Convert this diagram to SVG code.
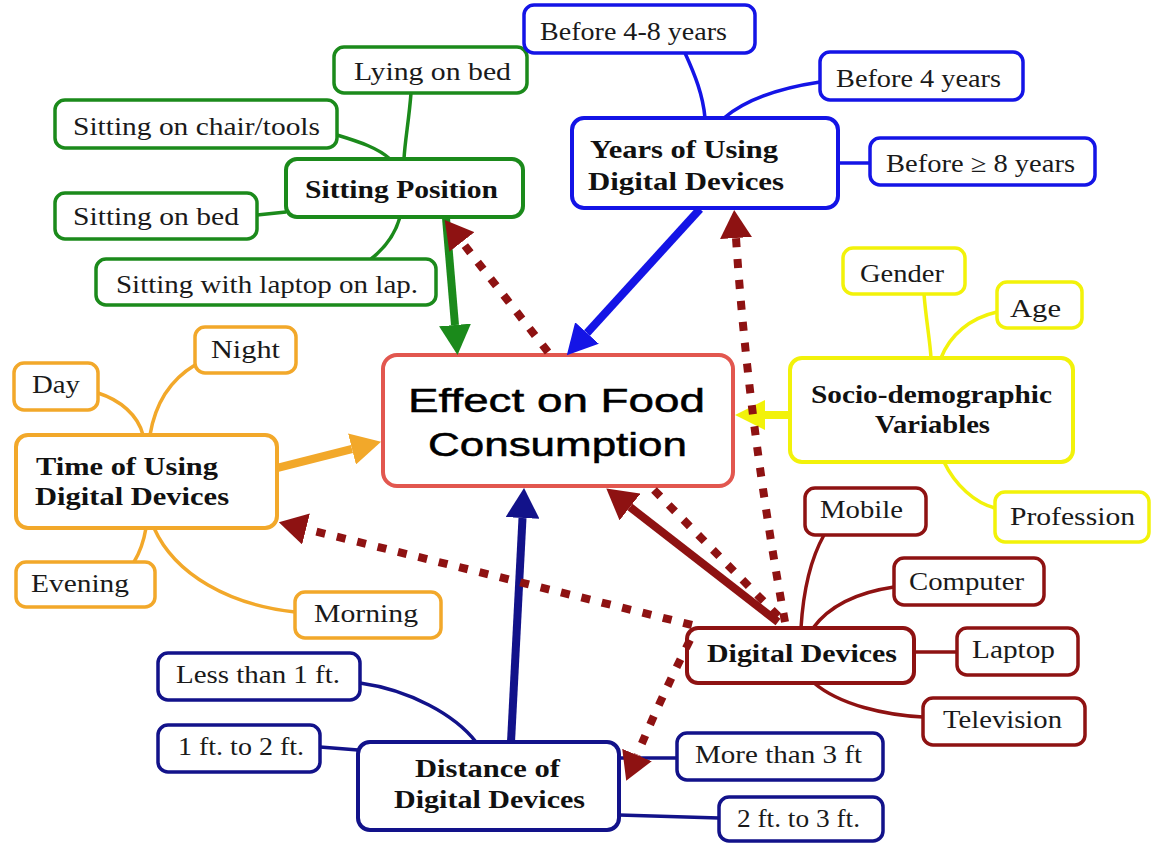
<svg xmlns="http://www.w3.org/2000/svg" width="1151" height="843" viewBox="0 0 1151 843">
<style>
.n{fill:#fff;stroke-width:3.5}
.m{stroke-width:4}
.G{stroke:#1b8a1b}.B{stroke:#1414e6}.Y{stroke:#f2f20a}.O{stroke:#f2a82a}.R{stroke:#8e1212}.N{stroke:#12128a}.E{stroke:#e2574f}
text{font-family:"Liberation Serif","Times New Roman",serif;font-size:25px;fill:#1a1a1a}
.b{font-weight:bold;fill:#111}
.big{font-family:"Liberation Sans",Arial,sans-serif;font-size:34px;fill:#000;stroke:#000;stroke-width:0.5}
.c{fill:none;stroke-width:3.5}
.t{fill:none;stroke-width:8}
.d{fill:none;stroke:#8e1212;stroke-width:8;stroke-dasharray:9 12}
</style>
<defs>
<marker id="hg" markerUnits="userSpaceOnUse" markerWidth="30" markerHeight="32" refX="0" refY="16" orient="auto"><path d="M0,0 L30,16 L0,32 Z" fill="#1b8a1b"/></marker>
<marker id="hb" markerUnits="userSpaceOnUse" markerWidth="30" markerHeight="32" refX="0" refY="16" orient="auto"><path d="M0,0 L30,16 L0,32 Z" fill="#1414e6"/></marker>
<marker id="ho" markerUnits="userSpaceOnUse" markerWidth="30" markerHeight="32" refX="0" refY="16" orient="auto"><path d="M0,0 L30,16 L0,32 Z" fill="#f2a82a"/></marker>
<marker id="hy" markerUnits="userSpaceOnUse" markerWidth="30" markerHeight="30" refX="0" refY="15" orient="auto"><path d="M0,0 L30,15 L0,30 Z" fill="#f2f20a"/></marker>
<marker id="hn" markerUnits="userSpaceOnUse" markerWidth="30" markerHeight="34" refX="0" refY="17" orient="auto"><path d="M0,0 L30,17 L0,34 Z" fill="#12128a"/></marker>
<marker id="hm" markerUnits="userSpaceOnUse" markerWidth="30" markerHeight="34" refX="0" refY="17" orient="auto"><path d="M0,0 L30,17 L0,34 Z" fill="#8e1212"/></marker>
<marker id="hd" markerUnits="userSpaceOnUse" markerWidth="28" markerHeight="32" refX="0" refY="16" orient="auto"><path d="M0,0 L28,16 L0,32 Z" fill="#8e1212"/></marker>
</defs>
<rect width="1151" height="843" fill="#fff"/>

<g id="leaf-connectors">
<path class="c G" d="M411,93 C409,120 405,140 404,159"/>
<path class="c G" d="M337,135 C360,142 378,148 390,159"/>
<path class="c G" d="M257,215 L286,212"/>
<path class="c G" d="M400,217 C395,235 385,248 371,259"/>
<path class="c B" d="M685,53 C695,75 703,95 705,118"/>
<path class="c B" d="M820,82 C780,88 745,100 724,118"/>
<path class="c B" d="M838,163 L870,163"/>
<path class="c Y" d="M924,294 C926,320 930,340 931,358"/>
<path class="c Y" d="M997,312 C970,318 950,335 941,358"/>
<path class="c Y" d="M944,462 C955,485 975,503 995,508"/>
<path class="c O" d="M98,393 C120,400 138,415 143,435"/>
<path class="c O" d="M195,365 C170,380 155,405 150,435"/>
<path class="c O" d="M146,528 C144,540 140,552 134,562"/>
<path class="c O" d="M154,528 C175,575 230,605 295,612"/>
<path class="c R" d="M824,535 C810,560 803,595 801,628"/>
<path class="c R" d="M894,587 C860,592 830,605 813,628"/>
<path class="c R" d="M914,652 L957,652"/>
<path class="c R" d="M814,683 C840,705 885,715 923,717"/>
<path class="c N" d="M360,683 C410,690 455,715 476,742"/>
<path class="c N" d="M320,747 L358,750"/>
<path class="c N" d="M619,758 L677,758"/>
<path class="c N" d="M619,815 L719,818"/>
</g>

<g id="sitting-position">
<rect class="n G" x="334" y="47" width="193" height="46" rx="10"/><text x="354" y="80" textLength="157" lengthAdjust="spacingAndGlyphs">Lying on bed</text>
<rect class="n G" x="55" y="100" width="282" height="48" rx="10"/><text x="73" y="135" textLength="247" lengthAdjust="spacingAndGlyphs">Sitting on chair/tools</text>
<rect class="n G m" x="286" y="159" width="237" height="58" rx="11"/><text class="b" x="305" y="198" textLength="193" lengthAdjust="spacingAndGlyphs">Sitting Position</text>
<rect class="n G" x="55" y="193" width="202" height="46" rx="10"/><text x="73" y="225" textLength="166" lengthAdjust="spacingAndGlyphs">Sitting on bed</text>
<rect class="n G" x="96" y="259" width="340" height="46" rx="10"/><text x="116" y="293" textLength="302" lengthAdjust="spacingAndGlyphs">Sitting with laptop on lap.</text>
</g>

<g id="years-of-using">
<rect class="n B" x="524" y="5" width="231" height="48" rx="10"/><text x="540" y="40" textLength="187" lengthAdjust="spacingAndGlyphs">Before 4-8 years</text>
<rect class="n B" x="820" y="52" width="203" height="48" rx="10"/><text x="836" y="87" textLength="165" lengthAdjust="spacingAndGlyphs">Before 4 years</text>
<rect class="n B m" x="572" y="118" width="266" height="90" rx="12"/>
<text class="b" x="590" y="158" textLength="188" lengthAdjust="spacingAndGlyphs">Years of Using</text>
<text class="b" x="588" y="190" textLength="196" lengthAdjust="spacingAndGlyphs">Digital Devices</text>
<rect class="n B" x="870" y="138" width="225" height="47" rx="10"/><text x="886" y="172" textLength="189" lengthAdjust="spacingAndGlyphs">Before ≥ 8 years</text>
</g>

<g id="socio-demographic">
<rect class="n Y" x="843" y="248" width="122" height="46" rx="10"/><text x="860" y="282" textLength="84" lengthAdjust="spacingAndGlyphs">Gender</text>
<rect class="n Y" x="997" y="282" width="85" height="46" rx="10"/><text x="1010" y="317" textLength="51" lengthAdjust="spacingAndGlyphs">Age</text>
<rect class="n Y m" x="790" y="358" width="283" height="104" rx="12"/>
<text class="b" x="811" y="403" textLength="241" lengthAdjust="spacingAndGlyphs">Socio-demographic</text>
<text class="b" x="875" y="433" textLength="115" lengthAdjust="spacingAndGlyphs">Variables</text>
<rect class="n Y" x="995" y="492" width="154" height="50" rx="10"/><text x="1010" y="525" textLength="125" lengthAdjust="spacingAndGlyphs">Profession</text>
</g>

<g id="time-of-using">
<rect class="n O" x="195" y="327" width="101" height="46" rx="10"/><text x="211" y="358" textLength="69" lengthAdjust="spacingAndGlyphs">Night</text>
<rect class="n O" x="14" y="363" width="84" height="47" rx="10"/><text x="32" y="393" textLength="48" lengthAdjust="spacingAndGlyphs">Day</text>
<rect class="n O m" x="16" y="435" width="261" height="93" rx="12"/>
<text class="b" x="36" y="475" textLength="182" lengthAdjust="spacingAndGlyphs">Time of Using</text>
<text class="b" x="35" y="505" textLength="194" lengthAdjust="spacingAndGlyphs">Digital Devices</text>
<rect class="n O" x="16" y="562" width="139" height="45" rx="10"/><text x="31" y="592" textLength="98" lengthAdjust="spacingAndGlyphs">Evening</text>
<rect class="n O" x="295" y="592" width="146" height="46" rx="10"/><text x="314" y="622" textLength="104" lengthAdjust="spacingAndGlyphs">Morning</text>
</g>

<g id="digital-devices">
<rect class="n R" x="805" y="488" width="121" height="47" rx="10"/><text x="820" y="518" textLength="83" lengthAdjust="spacingAndGlyphs">Mobile</text>
<rect class="n R" x="894" y="558" width="150" height="47" rx="10"/><text x="909" y="590" textLength="115" lengthAdjust="spacingAndGlyphs">Computer</text>
<rect class="n R m" x="687" y="628" width="227" height="55" rx="11"/><text class="b" x="707" y="662" textLength="190" lengthAdjust="spacingAndGlyphs">Digital Devices</text>
<rect class="n R" x="957" y="628" width="121" height="47" rx="10"/><text x="972" y="658" textLength="83" lengthAdjust="spacingAndGlyphs">Laptop</text>
<rect class="n R" x="923" y="698" width="162" height="47" rx="10"/><text x="943" y="728" textLength="119" lengthAdjust="spacingAndGlyphs">Television</text>
</g>

<g id="distance">
<rect class="n N" x="158" y="653" width="202" height="47" rx="10"/><text x="176" y="683" textLength="164" lengthAdjust="spacingAndGlyphs">Less than 1 ft.</text>
<rect class="n N" x="158" y="725" width="162" height="47" rx="10"/><text x="178" y="755" textLength="126" lengthAdjust="spacingAndGlyphs">1 ft. to 2 ft.</text>
<rect class="n N m" x="358" y="742" width="261" height="88" rx="12"/>
<text class="b" x="415" y="777" textLength="145" lengthAdjust="spacingAndGlyphs">Distance of</text>
<text class="b" x="394" y="808" textLength="191" lengthAdjust="spacingAndGlyphs">Digital Devices</text>
<rect class="n N" x="677" y="733" width="206" height="47" rx="10"/><text x="695" y="763" textLength="167" lengthAdjust="spacingAndGlyphs">More than 3 ft</text>
<rect class="n N" x="719" y="797" width="164" height="44" rx="10"/><text x="737" y="827" textLength="123" lengthAdjust="spacingAndGlyphs">2 ft. to 3 ft.</text>
</g>

<g id="effect-on-food">
<rect class="n E m" x="383" y="355" width="350" height="131" rx="14"/>
<text class="big" x="408" y="412" textLength="297" lengthAdjust="spacingAndGlyphs">Effect on Food</text>
<text class="big" x="428" y="456" textLength="259" lengthAdjust="spacingAndGlyphs">Consumption</text>
</g>

<g id="arrows">
<path class="t G" d="M446,218 L455,325" marker-end="url(#hg)"/>
<path class="t B" d="M700,209 L587,333" marker-end="url(#hb)"/>
<path class="t O" d="M277,468 L352,449" marker-end="url(#ho)"/>
<path class="t Y" d="M790,415 L765,415" marker-end="url(#hy)"/>
<path class="t N" d="M511,742 L522.5,518" marker-end="url(#hn)"/>
<path class="t R" d="M778,622 L630,507" marker-end="url(#hm)"/>
<path class="d" d="M548,352 L462,242" marker-end="url(#hd)"/>
<path class="d" d="M785,622 Q748,420 736,238" marker-end="url(#hd)"/>
<path class="d" d="M692,625 L306,529" marker-end="url(#hd)"/>
<path class="d" d="M690,640 Q660,700 637,755" marker-end="url(#hd)"/>
<path class="d" d="M654,490 L782,620"/>
</g>
</svg>
